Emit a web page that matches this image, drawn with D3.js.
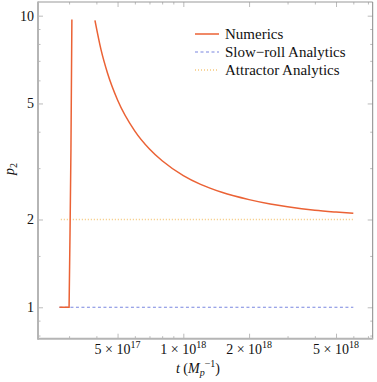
<!DOCTYPE html>
<html>
<head>
<meta charset="utf-8">
<script src="https://cdn.jsdelivr.net/npm/d3@7"></script>
<style>
  body { margin: 0; background: #fff; }
</style>
</head>
<body>
<script>
// t in units of M_p^-1, p2 dimensionless
// numerics, first branch (blows up near t ~ 3.1e17)
var numT1 = [2.71e17, 3.00e17, 3.03e17, 3.06e17, 3.09e17];
var numP1 = [1, 1, 1.8, 3.5, 9.7];
// numerics, second branch (decays towards attractor)
var numT2 = [3.94e17, 4.2e17, 4.5e17, 5e17, 6e17, 7e17, 8e17, 1e18, 1.2e18, 1.5e18, 2e18, 2.5e18, 3e18, 4e18, 5e18, 6e18];
var numP2 = [9.64, 7.65, 6.35, 5.14, 4.02, 3.49, 3.18, 2.83, 2.64, 2.48, 2.34, 2.26, 2.21, 2.15, 2.12, 2.10];
// analytic estimates (constant)
var slowT = [2.71e17, 6e18], slowP = [1, 1];
var attrT = [2.75e17, 6e18], attrP = [2, 2];

var xMajor = [5e17, 1e18, 2e18, 5e18];
var xMajorLabels = [["5", "17"], ["1", "18"], ["2", "18"], ["5", "18"]];
var xMinor = [3e17, 4e17, 6e17, 7e17, 8e17, 9e17, 3e18, 4e18, 6e18, 7e18];
var yMajor = [1, 2, 5, 10];
var yMinor = [0.8, 0.9, 1.5, 3, 4, 6, 7, 8, 9];

var legendNames = ["Numerics", "Slow\u2212roll Analytics", "Attractor Analytics"];

var W = 377, H = 382;
var L = 38, R = 372.7, T = 2, B = 338.7;
var FONT = "'Liberation Serif', 'DejaVu Serif', serif";

var svg = d3.select("body").append("svg")
  .attr("width", W)
  .attr("height", H)
  .attr("font-family", FONT);

var x = d3.scaleLog().domain([2.162e17, 7.36e18]).range([L, R]);
var y = d3.scaleLog().domain([0.7803, 11.14]).range([B, T]);

// frame ticks
function ticks(g, axisFn, scale, vals, size) {
  g.call(axisFn(scale).tickValues(vals).tickSize(size).tickFormat(""));
  g.select(".domain").remove();
  g.selectAll(".tick line").attr("stroke", "#aaa").attr("stroke-width", 0.8);
}
svg.append("g").attr("transform", "translate(0," + B + ")").call(ticks, d3.axisTop, x, xMajor, 5);
svg.append("g").attr("transform", "translate(0," + B + ")").call(ticks, d3.axisTop, x, xMinor, 2.5);
svg.append("g").attr("transform", "translate(0," + T + ")").call(ticks, d3.axisBottom, x, xMajor, 5);
svg.append("g").attr("transform", "translate(0," + T + ")").call(ticks, d3.axisBottom, x, xMinor, 2.5);
svg.append("g").attr("transform", "translate(" + L + ",0)").call(ticks, d3.axisRight, y, yMajor, 5);
svg.append("g").attr("transform", "translate(" + L + ",0)").call(ticks, d3.axisRight, y, yMinor, 2.5);
svg.append("g").attr("transform", "translate(" + R + ",0)").call(ticks, d3.axisLeft, y, yMajor, 5);
svg.append("g").attr("transform", "translate(" + R + ",0)").call(ticks, d3.axisLeft, y, yMinor, 2.5);

// frame
svg.append("line").attr("x1", L).attr("x2", R).attr("y1", T).attr("y2", T).attr("stroke", "#999").attr("stroke-width", 1);
svg.append("line").attr("x1", R).attr("x2", R).attr("y1", T).attr("y2", B).attr("stroke", "#888").attr("stroke-width", 1);
svg.append("line").attr("x1", L).attr("x2", R + 0.5).attr("y1", B).attr("y2", B).attr("stroke", "#b5b5b5").attr("stroke-width", 2);
svg.append("line").attr("x1", L).attr("x2", L).attr("y1", T - 0.5).attr("y2", B + 1).attr("stroke", "#b5b5b5").attr("stroke-width", 2);

// tick labels
xMajor.forEach(function (v, i) {
  var t = svg.append("text").attr("x", x(v)).attr("y", 354).attr("text-anchor", "middle")
    .attr("font-family", FONT).attr("font-size", 14).attr("fill", "#111");
  t.append("tspan").text(xMajorLabels[i][0] + " \u00d7 10");
  t.append("tspan").attr("dy", -6).attr("font-size", 10).text(xMajorLabels[i][1]);
});
yMajor.forEach(function (v) {
  svg.append("text").attr("x", 34).attr("y", y(v) + 5).attr("text-anchor", "end")
    .attr("font-family", FONT).attr("font-size", 14).attr("fill", "#111").text(v);
});

// axis labels
var xl = svg.append("text").attr("x", 198).attr("y", 373).attr("text-anchor", "middle")
  .attr("font-family", FONT).attr("font-size", 14).attr("fill", "#111");
xl.append("tspan").attr("font-style", "italic").text("t");
xl.append("tspan").text(" (");
xl.append("tspan").attr("font-style", "italic").text("M");
xl.append("tspan").attr("font-style", "italic").attr("font-size", 10).attr("dy", 3).text("p");
xl.append("tspan").attr("font-size", 10).attr("dy", -9).text("\u22121");
xl.append("tspan").attr("dy", 6).text(")");

var yl = svg.append("text").attr("transform", "translate(14,169) rotate(-90)").attr("text-anchor", "middle")
  .attr("font-family", FONT).attr("font-size", 14).attr("fill", "#111");
yl.append("tspan").attr("font-style", "italic").text("p");
yl.append("tspan").attr("font-size", 10).attr("dy", 3).text("2");

// series
var line = d3.line().x(function (d) { return x(d[0]); }).y(function (d) { return y(d[1]); });
function pairs(ts, ps) { return ts.map(function (t, i) { return [t, ps[i]]; }); }

svg.append("path").datum(pairs(attrT, attrP)).attr("d", line)
  .attr("fill", "none").attr("stroke", "#f2b550").attr("stroke-opacity", 0.75).attr("stroke-width", 1.3).attr("stroke-dasharray", "1,2");
svg.append("path").datum(pairs(slowT, slowP)).attr("d", line)
  .attr("fill", "none").attr("stroke", "#7a86e0").attr("stroke-width", 1.1).attr("stroke-dasharray", "3,2.5");
svg.append("path").datum(pairs(numT1, numP1)).attr("d", line)
  .attr("fill", "none").attr("stroke", "#eb6235").attr("stroke-width", 1.5);
svg.append("path").datum(pairs(numT2, numP2)).attr("d", line.curve(d3.curveMonotoneX))
  .attr("fill", "none").attr("stroke", "#eb6235").attr("stroke-width", 1.5);

// legend
var legStyles = [
  { c: "#eb6235", dash: null, w: 1.5, o: 1 },
  { c: "#7a86e0", dash: "3,2.5", w: 1.1, o: 1 },
  { c: "#f2b550", dash: "1,2", w: 1.3, o: 0.75 }
];
legendNames.forEach(function (n, i) {
  var yy = 34 + i * 18;
  svg.append("line").attr("x1", 195).attr("x2", 219).attr("y1", yy).attr("y2", yy)
    .attr("stroke", legStyles[i].c).attr("stroke-width", legStyles[i].w)
    .attr("stroke-opacity", legStyles[i].o)
    .attr("stroke-dasharray", legStyles[i].dash);
  svg.append("text").attr("x", 225).attr("y", yy + 5).attr("font-family", FONT)
    .attr("font-size", 15).attr("fill", "#111").text(n);
});
</script>
</body>
</html>
